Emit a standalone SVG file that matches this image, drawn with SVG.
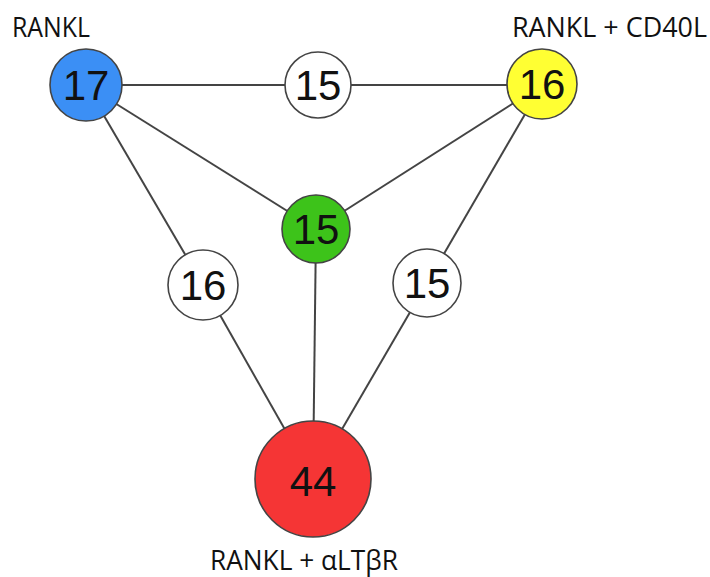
<svg xmlns="http://www.w3.org/2000/svg" width="710" height="577" viewBox="0 0 710 577">
<style>
.edge{stroke:#444;stroke-width:2;fill:none}
.n{stroke:#444;stroke-width:1.6}
.num{font-family:"Liberation Sans",Arial,sans-serif;font-size:42px;fill:#111;text-anchor:middle}
.lbl{font-family:"Open Sans","Noto Sans",sans-serif;font-size:27px;fill:#111}
</style>
<rect width="710" height="577" fill="#fff"/>
<g id="connectors">
<line class="edge" x1="86" y1="85" x2="542" y2="85"/>
<line class="edge" x1="86" y1="85" x2="316" y2="229"/>
<line class="edge" x1="542" y1="85" x2="316" y2="229"/>
<line class="edge" x1="316" y1="229" x2="313" y2="479"/>
<line class="edge" x1="86" y1="85" x2="203" y2="285"/>
<line class="edge" x1="203" y1="285" x2="313" y2="479"/>
<line class="edge" x1="542" y1="85" x2="427" y2="283"/>
<line class="edge" x1="427" y1="283" x2="313" y2="479"/>
</g>
<g id="node-rankl">
<circle class="n" cx="86" cy="85" r="36" fill="#3b8ff5"/>
<text class="num" x="86" y="100">17</text>
<text class="lbl" x="12" y="37" textLength="78" lengthAdjust="spacingAndGlyphs">RANKL</text>
</g>
<g id="node-top-mid">
<circle class="n" cx="318" cy="85" r="33" fill="#fff"/>
<text class="num" x="318" y="100">15</text>
</g>
<g id="node-cd40l">
<circle class="n" cx="542" cy="84" r="35" fill="#ffff33"/>
<text class="num" x="542" y="99">16</text>
<text class="lbl" x="512" y="37" textLength="195" lengthAdjust="spacingAndGlyphs">RANKL + CD40L</text>
</g>
<g id="node-center">
<circle class="n" cx="316" cy="229" r="34" fill="#3dc31a"/>
<text class="num" x="316" y="244">15</text>
</g>
<g id="node-left-mid">
<circle class="n" cx="203" cy="285" r="35" fill="#fff"/>
<text class="num" x="203" y="300">16</text>
</g>
<g id="node-right-mid">
<circle class="n" cx="427" cy="283" r="34" fill="#fff"/>
<text class="num" x="427" y="298">15</text>
</g>
<g id="node-ltbr">
<circle class="n" cx="313" cy="479" r="58" fill="#f53535"/>
<text class="num" x="313" y="496">44</text>
<text class="lbl" x="210" y="570" textLength="188" lengthAdjust="spacingAndGlyphs">RANKL + αLTβR</text>
</g>
</svg>
